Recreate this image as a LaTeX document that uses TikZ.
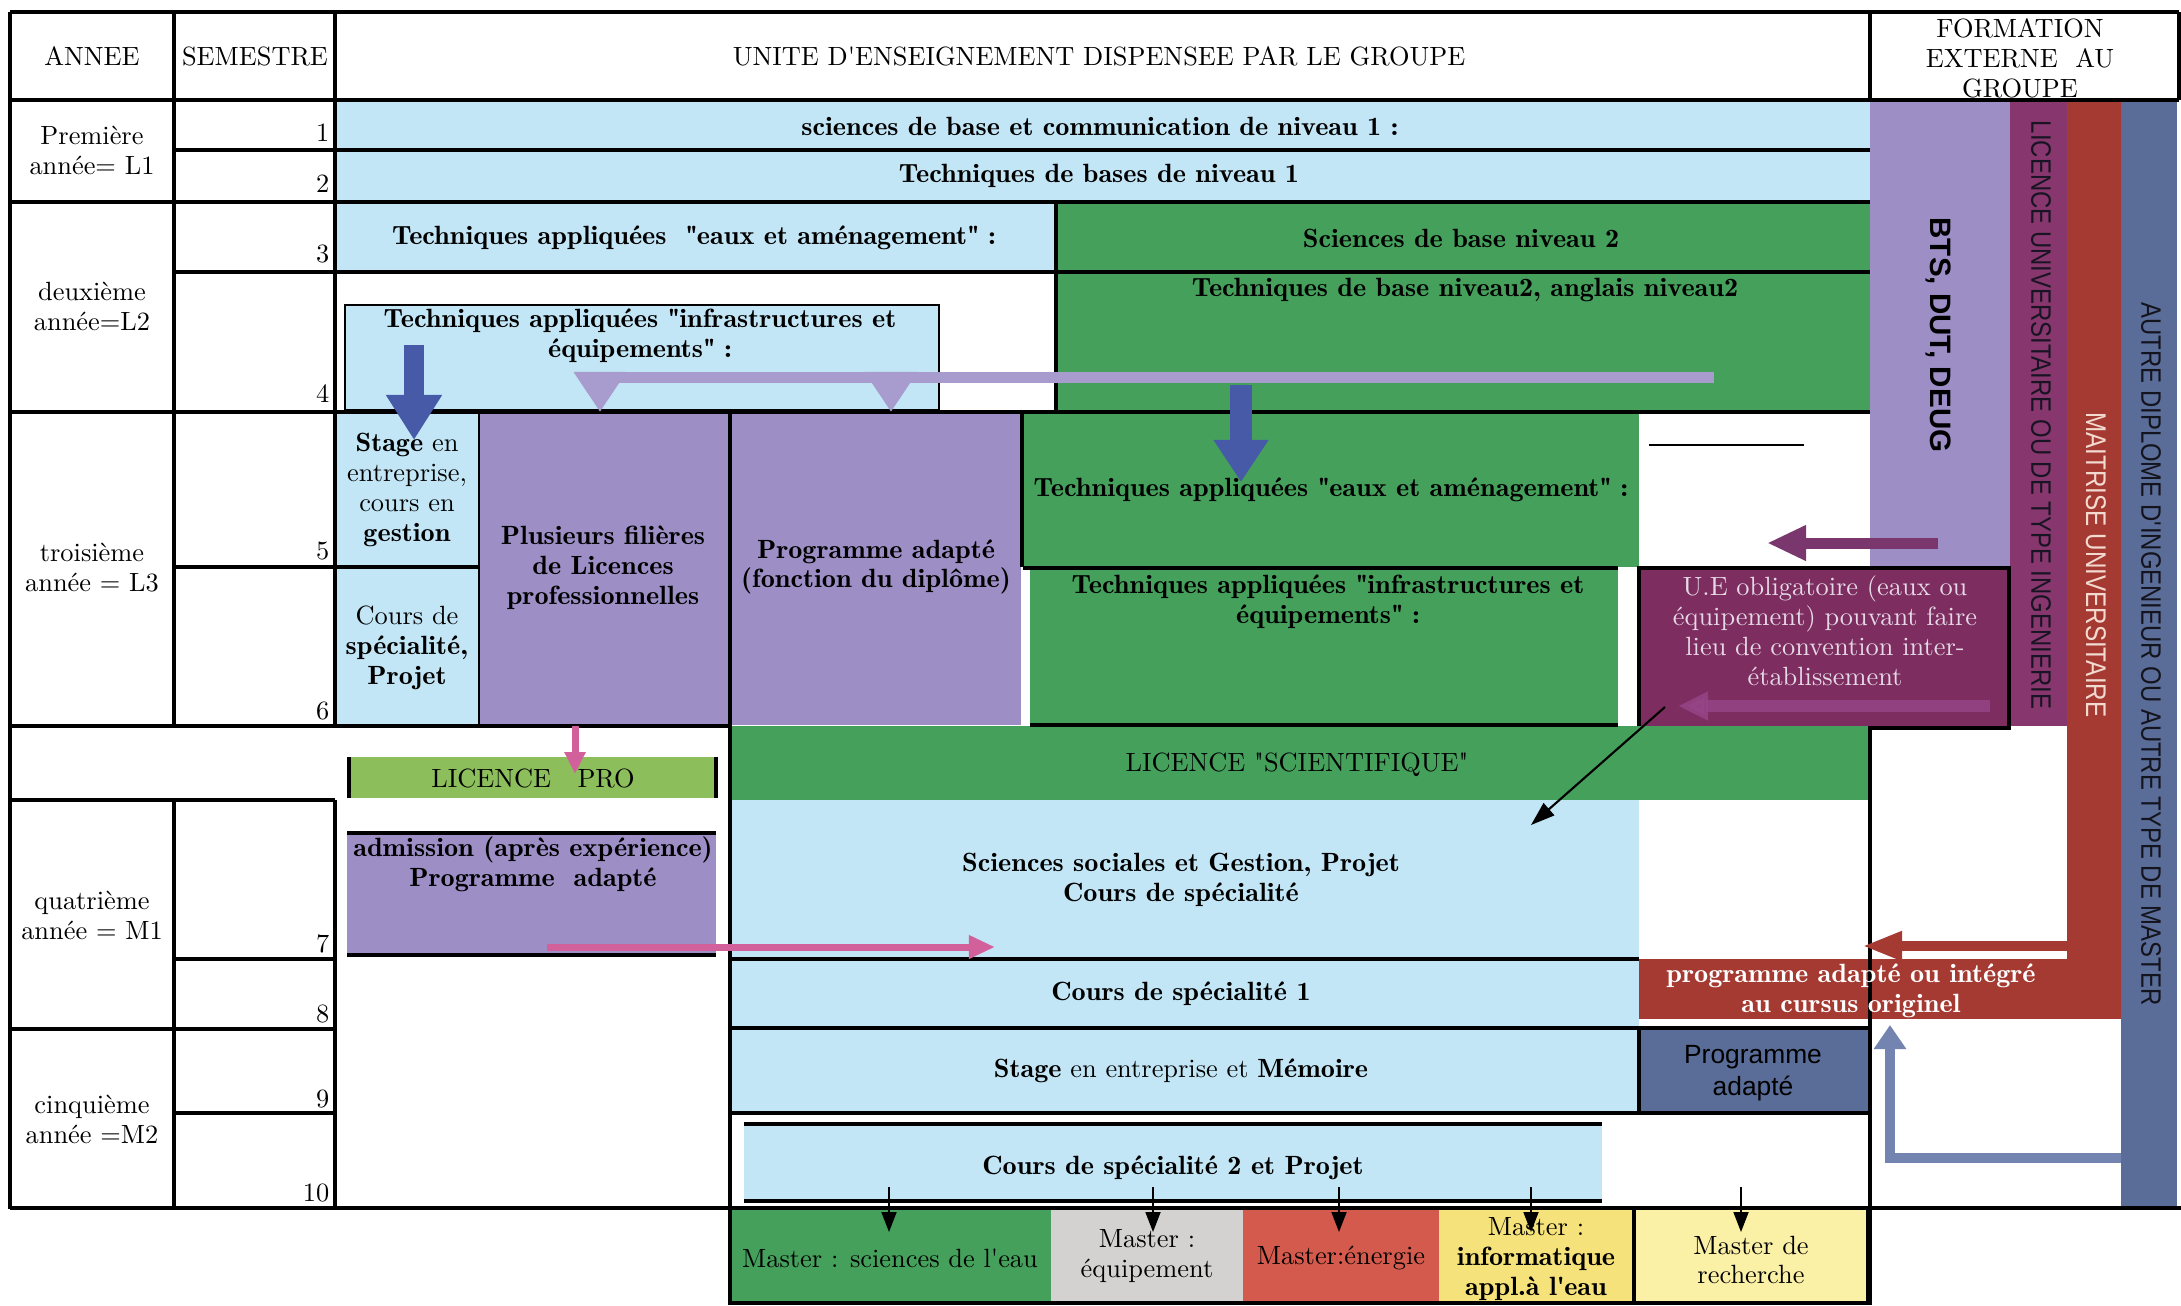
\documentclass[tikz,border=0pt]{standalone}
\usepackage{fontspec}
\setmainfont{lmroman10-regular.otf}[
  BoldFont=lmromandemi10-regular.otf,
  ItalicFont=lmroman10-italic.otf,
  BoldFeatures={FakeStretch=1.07}]
\newfontfamily\sansf{Liberation Sans}
\newfontfamily\condsans[FakeStretch=0.85]{Liberation Sans}
\usetikzlibrary{arrows.meta}
\newcommand\fs{\fontsize{7.5}{8.5}\selectfont}
\newcommand\qq{\textquotedbl}
\newcommand\qs{\textquotesingle}
\definecolor{lblue}{RGB}{194,230,246}
\definecolor{cgreen}{RGB}{69,160,92}
\definecolor{lav}{RGB}{157,143,198}
\definecolor{purp}{RGB}{135,55,110}
\definecolor{uebox}{RGB}{125,45,95}
\definecolor{cbrown}{RGB}{165,58,50}
\definecolor{slate}{RGB}{90,109,152}
\definecolor{slatearrow}{RGB}{115,132,176}
\definecolor{lpgreen}{RGB}{141,190,92}
\definecolor{bluearrow}{RGB}{70,90,168}
\definecolor{lavarrow}{RGB}{168,155,205}
\definecolor{pinkarrow}{RGB}{210,96,155}
\definecolor{plumarrow}{RGB}{122,55,110}
\definecolor{fadearrow}{RGB}{150,70,135}
\definecolor{mgrey}{RGB}{212,210,208}
\definecolor{mred}{RGB}{211,90,76}
\definecolor{myellow}{RGB}{246,226,122}
\definecolor{pyellow}{RGB}{250,240,166}
\definecolor{uetext}{RGB}{230,217,230}
\definecolor{maittext}{RGB}{242,218,208}
\newcommand\cellbox[7]{%
  \pgfmathsetmacro\cbw{(#5-#3)*0.01}%
  \pgfmathsetmacro\cbh{(#6-#4)*0.01}%
  \node[cellbase,#2,minimum width=\cbw cm,minimum height=\cbh cm] (#1) at ({(#3+#5)/2},{(#4+#6)/2}) {#7};}
\begin{document}
\begin{tikzpicture}[x=0.01cm,y=-0.01cm,
  gridline/.style={line width=0.9pt,black},
  thinline/.style={line width=0.45pt,black},
  cellbase/.style={inner sep=0pt,outer sep=0pt,draw=none},
  txt/.style={inner sep=0pt,align=center,font=\fs},
  btxt/.style={txt,font=\fs\bfseries},
  semno/.style={inner sep=0pt,anchor=east,font=\fs},
  blockarrow/.style={line join=miter},
  smallarrow/.style={line width=0.5pt,black,-{Triangle[length=0.2cm,width=0.15cm]}}]
\useasboundingbox[fill=white] (0,0) rectangle (2181,1305);

% ---------- cells ----------
\cellbox{c1}{fill=lblue}{335}{100}{1870}{150}{}
\cellbox{c2}{fill=lblue}{335}{150}{1870}{202}{}
\cellbox{c3a}{fill=lblue}{335}{202}{1056}{272}{}
\cellbox{c3b}{fill=cgreen}{1056}{202}{1870}{272}{}
\cellbox{c4b}{fill=cgreen}{1056}{272}{1870}{412}{}
\cellbox{cinfra}{fill=lblue,draw=black,line width=0.8pt}{345}{305}{939}{410}{}
\cellbox{cstage}{fill=lblue}{336}{412}{479}{567}{}
\cellbox{ccours}{fill=lblue}{336}{568}{479}{725}{}
\cellbox{cplus}{fill=lav}{479}{412}{730}{725}{}
\cellbox{cprog}{fill=lav}{730}{412}{1021}{725}{}
\cellbox{ceaux}{fill=cgreen}{1023}{412}{1639}{567}{}
\cellbox{cinfrab}{fill=cgreen}{1030}{570}{1618}{725}{}
\cellbox{cbts}{fill=lav}{1870}{100}{2010}{567}{}
\cellbox{clic}{fill=purp}{2010}{100}{2067}{726}{}
\cellbox{cmait}{fill=cbrown}{2067}{100}{2121}{1019}{}
\cellbox{cautre}{fill=slate}{2121}{100}{2177}{1207}{}
\cellbox{cue}{fill=uebox,draw=black,line width=0.9pt}{1639}{568}{2009}{728}{}
\cellbox{clpro}{fill=lpgreen}{349}{757}{716}{798}{}
\cellbox{clsci}{fill=cgreen}{730}{726}{1870}{800}{}
\cellbox{cadm}{fill=lav}{347}{833}{716}{955}{}
\cellbox{csoc}{fill=lblue}{730}{800}{1639}{959}{}
\cellbox{cspea}{fill=lblue}{730}{959}{1639}{1028}{}
\cellbox{cbr}{fill=cbrown}{1639}{959}{2067}{1019}{}
\cellbox{cstm}{fill=lblue}{730}{1028}{1639}{1113}{}
\cellbox{cpa}{fill=slate,draw=black,line width=0.9pt}{1639}{1028}{1870}{1113}{}
\cellbox{cspeb}{fill=lblue}{744}{1124}{1602}{1201}{}
\cellbox{ma}{fill=cgreen}{730}{1208}{1051}{1303}{}
\cellbox{mb}{fill=mgrey}{1051}{1208}{1243}{1303}{}
\cellbox{mc}{fill=mred}{1243}{1208}{1439}{1303}{}
\cellbox{md}{fill=myellow}{1439}{1208}{1634}{1303}{}
\cellbox{me}{fill=pyellow,draw=black,line width=0.9pt}{1634}{1208}{1868}{1303}{}

% ---------- grid lines ----------
\draw[gridline] (10,12) -- (2179,12);
\draw[gridline] (10,100) -- (2179,100);
\draw[gridline] (10,12) -- (10,1209);
\draw[gridline] (174,12) -- (174,726);
\draw[gridline] (335,12) -- (335,726);
\draw[gridline] (1870,12) -- (1870,100);
\draw[gridline] (2179,12) -- (2179,100);
\draw[gridline] (174,800) -- (174,1209);
\draw[gridline] (335,800) -- (335,1209);
\draw[gridline] (174,150) -- (1870,150);
\draw[gridline] (10,202) -- (1870,202);
\draw[gridline] (174,272) -- (1870,272);
\draw[gridline] (1056,202) -- (1056,412);
\draw[gridline] (10,412) -- (1870,412);
\draw[gridline] (174,567) -- (479,567);
\draw[line width=1.3pt] (1023,568) -- (1618,568);
\draw[gridline] (1030,725) -- (1618,725);
\draw[gridline] (10,726) -- (730,726);
\draw[thinline] (479,412) -- (479,726);
\draw[gridline] (730,412) -- (730,1305);
\draw[thinline] (1021,412) -- (1021,567);
\draw[thinline] (1023,412) -- (1023,567);
\draw[gridline] (1870,726) -- (1870,1305);
\draw[gridline] (10,800) -- (335,800);
\draw[gridline] (174,959) -- (335,959);
\draw[gridline] (730,959) -- (1639,959);
\draw[gridline] (10,1029) -- (335,1029);
\draw[gridline] (730,1028) -- (1870,1028);
\draw[gridline] (174,1113) -- (335,1113);
\draw[gridline] (730,1113) -- (1870,1113);
\draw[gridline] (744,1124) -- (1602,1124);
\draw[gridline] (744,1201) -- (1602,1201);
\draw[gridline] (10,1208) -- (2181,1208);
\draw[gridline] (730,1303) -- (1868,1303);
\draw[line width=1.2pt] (349,757) -- (349,798);
\draw[line width=1.2pt] (716,757) -- (716,798);
\draw[gridline] (347,833) -- (716,833);
\draw[gridline] (347,955) -- (716,955);
\draw[line width=0.8pt] (1649,445) -- (1804,445);

% ---------- arrows ----------
\coordinate (ba1s) at (414,345); \coordinate (ba1e) at (414,440);
\draw[blockarrow,bluearrow,line width=0.19cm,-{Triangle[width=0.53cm,length=0.45cm]}] (ba1s) -- (ba1e);
\coordinate (lvR) at (1714,377); \coordinate (lvL) at (593,377);
\draw[lavarrow,line width=0.11cm] (lvR) -- (lvL);
\coordinate (lva1) at (600,372); \coordinate (lva2) at (600,412);
\coordinate (lvb1) at (891,372); \coordinate (lvb2) at (891,412);
\draw[lavarrow,line width=0.11cm,-{Triangle[width=0.5cm,length=0.4cm]}] (lva1) -- (lva2);
\draw[lavarrow,line width=0.11cm,-{Triangle[width=0.5cm,length=0.4cm]}] (lvb1) -- (lvb2);
\coordinate (ba2s) at (1241,385); \coordinate (ba2e) at (1241,482);
\draw[blockarrow,bluearrow,line width=0.22cm,-{Triangle[width=0.52cm,length=0.42cm]}] (ba2s) -- (ba2e);
\coordinate (pls) at (1938,543); \coordinate (ple) at (1767,543);
\draw[plumarrow,line width=0.11cm,-{Triangle[width=0.33cm,length=0.39cm]}] (pls) -- (ple);
\coordinate (fas) at (1990,706); \coordinate (fae) at (1678,706);
\draw[fadearrow,opacity=0.8,line width=0.12cm,-{Triangle[width=0.27cm,length=0.3cm]}] (fas) -- (fae);
\coordinate (brs) at (2067,946); \coordinate (bre) at (1862,946);
\draw[cbrown,line width=0.1cm,-{Triangle[width=0.27cm,length=0.4cm]}] (brs) -- (bre);
\coordinate (sls) at (2121,1158); \coordinate (slm) at (1890,1158); \coordinate (sle) at (1890,1025);
\draw[blockarrow,slatearrow,line width=0.1cm,-{Triangle[width=0.31cm,length=0.24cm]}] (sls) -- (slm) -- (sle);
\coordinate (pvs) at (575,726); \coordinate (pve) at (575,774);
\draw[pinkarrow,line width=0.07cm,-{Triangle[width=0.2cm,length=0.22cm]}] (pvs) -- (pve);
\coordinate (phs) at (547,947); \coordinate (phe) at (995,947);
\draw[pinkarrow,line width=0.07cm,-{Triangle[width=0.22cm,length=0.26cm]}] (phs) -- (phe);
\coordinate (dgs) at (1665,707); \coordinate (dge) at (1531,825);
\draw[line width=0.6pt,black,-{Triangle[length=0.24cm,width=0.16cm]}] (dgs) -- (dge);
\foreach \xx/\nm in {889/a,1153/b,1339/c,1531/d,1741/e}{
  \coordinate (sa\nm) at (\xx,1187); \coordinate (sb\nm) at (\xx,1232);
  \draw[smallarrow] (sa\nm) -- (sb\nm);}

% ---------- texts ----------
\node[txt] (h1) at (92,56) {ANNEE};
\node[txt] (h2) at (255,56) {SEMESTRE};
\node[txt] (h3) at (1099,56) {UNITE D\qs ENSEIGNEMENT DISPENSEE PAR LE GROUPE};
\node[txt] (h4) at (2020,58) {FORMATION\\EXTERNE\ \ AU\\GROUPE};
\node[txt] (y1) at (92,150) {Première\\année= L1};
\node[txt] (y2) at (92,306) {deuxième\\année=L2};
\node[txt] (y3) at (92,568) {troisième\\année = L3};
\node[txt] (y4) at (92,915) {quatrième\\année = M1};
\node[txt] (y5) at (92,1119) {cinquième\\année =M2};
\foreach \yy/\nn in {133/1,184/2,254/3,394/4,551/5,711/6,944/7,1014/8,1099/9,1193/10}{
  \node[semno] (s\nn) at (330,\yy) {\nn};}

\node[btxt] (t1) at (1100,126) {sciences de base et communication de niveau 1 :};
\node[btxt] (t2) at (1099,176) {Techniques de bases de niveau 1};
\node[btxt] (t3) at (694,238) {Techniques appliquées\ \ \qq eaux et aménagement\qq\ :};
\node[btxt] (t4) at (1461,238) {Sciences de base niveau 2};
\node[btxt] (t5) at (1465,290) {Techniques de base niveau2, anglais niveau2};
\node[btxt] (t6) at (640,336) {Techniques appliquées \qq infrastructures et\\équipements\qq\ :};
\node[txt] (t7) at (407,490) {\textbf{Stage} en\\entreprise,\\cours en\\\textbf{gestion}};
\node[txt] (t8) at (407,648) {Cours de\\\textbf{spécialité,}\\\textbf{Projet}};
\node[btxt] (t9) at (603,568) {Plusieurs filières\\de Licences\\professionnelles};
\node[btxt] (t10) at (876,567) {Programme adapté\\(fonction du diplôme)};
\node[btxt] (t11) at (1331,490) {Techniques appliquées \qq eaux et aménagement\qq\ :};
\node[btxt] (t12) at (1328,602) {Techniques appliquées \qq infrastructures et\\équipements\qq\ :};
\node[txt,text=uetext] (t13) at (1825,631) {U.E obligatoire (eaux ou\\équipement) pouvant faire\\lieu de convention inter-\\établissement};
\node[txt] (t14) at (533,778) {LICENCE\quad PRO};
\node[txt] (t15) at (1297,765) {LICENCE \qq SCIENTIFIQUE\qq};
\node[btxt] (t16) at (533,864) {admission (après expérience)\\Programme\ \ adapté};
\node[btxt] (t17) at (1181,880) {Sciences sociales et Gestion, Projet\\Cours de spécialité};
\node[btxt] (t18) at (1181,994) {Cours de spécialité 1};
\node[btxt,text=white] (t19) at (1851,991) {programme adapté ou intégré\\au cursus originel};
\node[txt] (t20) at (1181,1071) {\textbf{Stage} en entreprise et \textbf{Mémoire}};
\node[txt,font=\sansf\fontsize{7.5}{9}\selectfont] (t21) at (1753,1073) {Programme\\adapté};
\node[btxt] (t22) at (1173,1168) {Cours de spécialité 2 et Projet};
\node[txt] (mt1) at (890,1258) {Master : sciences de l\qs eau};
\node[txt] (mt2) at (1147,1256) {Master :\\équipement};
\node[txt] (mt3) at (1341,1258) {Master:énergie};
\node[txt] (mt4) at (1536,1259) {Master :\\\textbf{informatique}\\\textbf{appl.à l\qs eau}};
\node[txt] (mt5) at (1751,1260) {Master de\\recherche};

\node[inner sep=0pt,rotate=-90,font=\sansf\bfseries\fontsize{8.4}{10}\selectfont] (r1) at (1939,335) {BTS, DUT, DEUG};
\node[inner sep=0pt,rotate=-90,text={rgb,255:red,25;green,20;blue,35},font=\condsans\fontsize{8}{9}\selectfont] (r2) at (2041,415) {LICENCE UNIVERSITAIRE OU DE TYPE INGENIERIE};
\node[inner sep=0pt,rotate=-90,text=maittext,font=\condsans\fontsize{8.1}{9}\selectfont] (r3) at (2096,565) {MAITRISE UNIVERSITAIRE};
\node[inner sep=0pt,rotate=-90,text={rgb,255:red,20;green,20;blue,30},font=\condsans\fontsize{8}{9}\selectfont] (r4) at (2151,654) {AUTRE DIPLOME D\qs INGENIEUR OU AUTRE TYPE DE MASTER};
\end{tikzpicture}
\end{document}
